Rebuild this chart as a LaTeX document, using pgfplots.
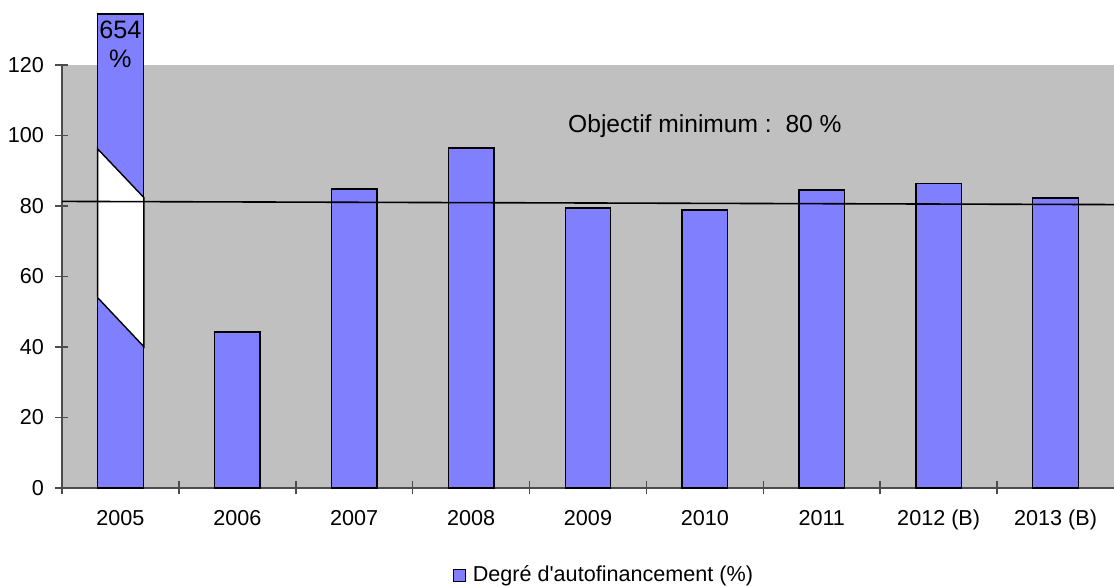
\documentclass[border=0pt]{standalone}
\usepackage{pgfplots}
\pgfplotsset{compat=1.18}
\usepackage{fontspec}
\setmainfont{Liberation Sans}
\definecolor{barblue}{RGB}{128,128,255}
\definecolor{bggray}{RGB}{192,192,192}
\newcommand{\sq}{\XeTeXglyph\XeTeXglyphindex "quotesingle"\relax}
\begin{document}
\fontsize{10.8}{12.8}\selectfont
\begin{tikzpicture}
\begin{axis}[name=ax, scale only axis, width=526pt, height=211.5pt,
  xmin=-0.5, xmax=8.5, ymin=0, ymax=120,
  axis x line*=bottom, axis y line*=left,
  axis line style={black!70, line width=0.8pt, -},
  axis background/.style={fill=bggray},
  clip=false,
  /pgf/number format/assume math mode=true,
  tick align=center, major tick length=6.5pt,
  tick style={black!70, line width=0.8pt},
  ytick={0,20,...,120},
  xtick={-0.5,0.5,...,7.5},
  xticklabels={},
  extra x ticks={0,1,...,8},
  extra x tick labels={2005,2006,2007,2008,2009,2010,2011,2012 (B),2013 (B)},
  extra x tick style={major tick length=0pt, tick style={draw=none}},
  xticklabel style={yshift=-7pt, text height=8pt, text depth=2.5pt},
  yticklabel style={xshift=-2pt},
  legend style={at={(0.516,-0.206)}, anchor=center, draw=none, fill=none,
    legend cell align=left},
  legend image code/.code={\draw[fill=barblue, draw=black, line width=0.6pt] (0pt,-3pt) rectangle (6pt,3pt);},
]
\addplot[ybar, bar width=0.39, fill=barblue, draw=black, line width=0.7pt]
  coordinates {(0,134.5) (1,44.2) (2,84.8) (3,96.5) (4,79.4) (5,78.9) (6,84.5) (7,86.3) (8,82.3)};
\addlegendentry{\hspace{1.5pt}Degré d\sq autofinancement (\%)}
\addplot[fill=white, draw=black, line width=0.7pt, forget plot]
  coordinates {(-0.195,96.2) (0.2,82.4) (0.2,40.1) (-0.195,54.0)} -- cycle;
\addplot[black, line width=0.8pt, forget plot] coordinates {(-0.5,81.3) (8.5,80.4)};
\node[font=\fontsize{12.3}{14.5}\selectfont] at (axis cs:5,102.7) {Objectif minimum~:~~80~\%};
\node[align=center, inner sep=0pt, font=\fontsize{12.6}{14.5}\selectfont] at (axis cs:0,125.8) {654\\\%};
\end{axis}
\pgfresetboundingbox
\path ([xshift=-31pt,yshift=-49pt]ax.south west) rectangle ([yshift=32.5pt]ax.north east);
\end{tikzpicture}
\end{document}
